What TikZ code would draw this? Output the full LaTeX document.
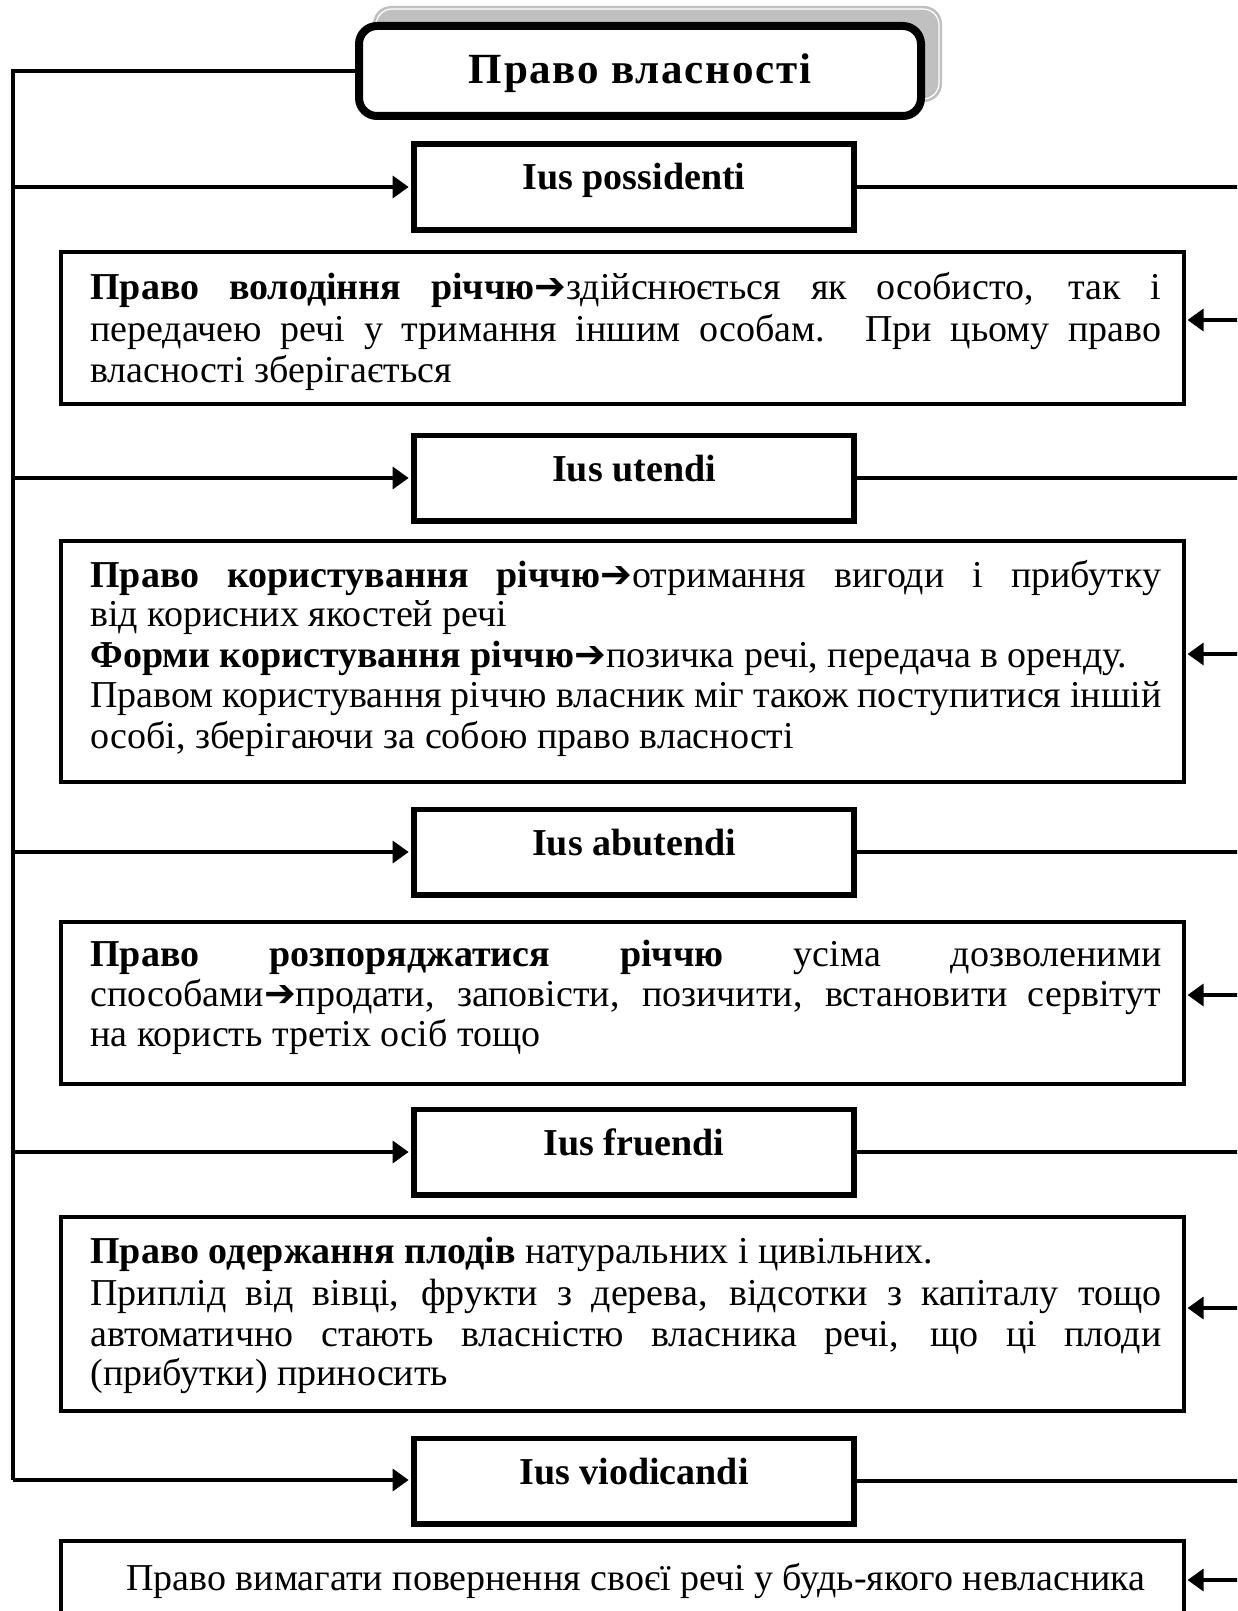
\documentclass[tikz,border=0pt]{standalone}
\usepackage{fontspec}
\setmainfont{Liberation Serif}
\newfontfamily\symfont{DejaVu Sans}
\newfontfamily\titlefont[LetterSpace=4]{Liberation Serif}
\usetikzlibrary{arrows.meta}
\definecolor{shadowgray}{RGB}{192,192,192}
\newcommand\arr{{\symfont\bfseries\char"2794}}
\newcommand\bodyfont{\fontsize{19}{20.3}\selectfont}
\newcommand\jl[1]{\makebox[535.5pt][s]{#1}}
\tikzset{
  conn/.style={line width=1.75pt},
  arrowline/.style={conn,-{Triangle[length=8pt,width=11pt]}},
  iusbox/.style={draw, line width=2.75pt, fill=white, minimum width=220pt, minimum height=42.75pt,
    inner sep=0pt, text height=8pt, text depth=5pt, font=\fontsize{19}{22}\selectfont\bfseries},
  titlebox/.style={draw, line width=4pt, fill=white, rounded corners=9pt, minimum width=281pt, minimum height=45pt,
    inner sep=0pt, text height=17pt, text depth=4pt, font=\fontsize{21.5}{24}\selectfont\titlefont\bfseries},
  txtbox/.style={draw, line width=1.75pt, minimum width=561.5pt, inner sep=0pt},
  ln/.style={anchor=base west, inner sep=0pt, font=\bodyfont},
}
\begin{document}
\begin{tikzpicture}[x=0.5pt,y=-0.5pt]
\useasboundingbox (0,0) rectangle (1237,1611);
\clip (0,0) rectangle (1237,1611);
% title shadow
\fill[shadowgray, rounded corners=9pt] (373,6) rectangle (942,102);
\draw[white, line width=0.6pt, rounded corners=8pt] (376,9) rectangle (939,99);
\node[titlebox] (tt) at (640,71) {Право власності};
% spine coordinates
\coordinate (L0) at (13,71);
\coordinate (L5) at (13,1480);
\coordinate (R) at (1245,0);
% Ius boxes
\node[iusbox] (i1) at (634,187) {Ius possidenti};
\node[iusbox] (i2) at (634,478) {Ius utendi};
\node[iusbox] (i3) at (634,852) {Ius abutendi};
\node[iusbox] (i4) at (634,1152) {Ius fruendi};
\node[iusbox] (i5) at (634,1481) {Ius viodicandi};
% text boxes
\node[txtbox, minimum height=76pt] (t1) at (622.5,328) {};
\node[txtbox, minimum height=120.5pt] (t2) at (622.5,661.5) {};
\node[txtbox, minimum height=81pt] (t3) at (622.5,1003) {};
\node[txtbox, minimum height=97pt] (t4) at (622.5,1314) {};
\node[txtbox, minimum height=79.5pt] (t5) at (622.5,1620.5) {};
% text lines
\node[ln] (b1a) at (90,299) {\jl{\textbf{Право володіння річчю}\arr здійснюється як особисто, так і}};
\node[ln] (b1b) at (90,341) {\jl{передачею речі у тримання іншим особам. При цьому право}};
\node[ln] (b1c) at (90,382) {власності зберігається};
\node[ln] (b2a) at (90,587) {\jl{\textbf{Право користування річчю}\arr отримання вигоди і прибутку}};
\node[ln] (b2b) at (90,626) {від корисних якостей речі};
\node[ln] (b2c) at (90,667) {\textbf{Форми користування річчю}\arr позичка речі, передача в оренду.};
\node[ln] (b2d) at (90,707) {\jl{Правом користування річчю власник міг також поступитися іншій}};
\node[ln] (b2e) at (90,748) {особі, зберігаючи за собою право власності};
\node[ln] (b3a) at (90,966) {\jl{\textbf{Право розпоряджатися річчю} усіма дозволеними}};
\node[ln] (b3b) at (90,1006) {\jl{способами\arr продати, заповісти, позичити, встановити сервітут}};
\node[ln] (b3c) at (90,1046) {на користь третіх осіб тощо};
\node[ln] (b4a) at (90,1263) {\textbf{Право одержання плодів} натуральних і цивільних.};
\node[ln] (b4b) at (90,1305) {\jl{Приплід від вівці, фрукти з дерева, відсотки з капіталу тощо}};
\node[ln] (b4c) at (90,1346) {\jl{автоматично стають власністю власника речі, що ці плоди}};
\node[ln] (b4d) at (90,1385) {(прибутки) приносить};
\node[ln] (b5a) at (126,1590) {Право вимагати повернення своєї речі у будь-якого невласника};
% left connectors
\draw[conn] (tt.west) -- (L0) -- (L5);
\draw[arrowline, shorten >=1.3pt] (L0 |- i1.west) -- (i1.west);
\draw[arrowline, shorten >=1.3pt] (L0 |- i2.west) -- (i2.west);
\draw[arrowline, shorten >=1.3pt] (L0 |- i3.west) -- (i3.west);
\draw[arrowline, shorten >=1.3pt] (L0 |- i4.west) -- (i4.west);
\draw[arrowline, shorten >=1.3pt] (L5) -- (L5 -| i5.west);
% right connectors
\draw[conn] (i1.east) -- (i1.east -| R);
\draw[conn] (i2.east) -- (i2.east -| R);
\draw[conn] (i3.east) -- (i3.east -| R);
\draw[conn] (i4.east) -- (i4.east -| R);
\draw[conn] (i5.east) -- (i5.east -| R);
\coordinate (r1) at (1245,320);
\coordinate (r2) at (1245,654);
\coordinate (r3) at (1245,995);
\coordinate (r4) at (1245,1308);
\coordinate (r5) at (1245,1580);
\draw[arrowline, shorten >=0.9pt] (r1) -- (r1 -| t1.east);
\draw[arrowline, shorten >=0.9pt] (r2) -- (r2 -| t2.east);
\draw[arrowline, shorten >=0.9pt] (r3) -- (r3 -| t3.east);
\draw[arrowline, shorten >=0.9pt] (r4) -- (r4 -| t4.east);
\draw[arrowline, shorten >=0.9pt] (r5) -- (r5 -| t5.east);
\end{tikzpicture}
\end{document}
